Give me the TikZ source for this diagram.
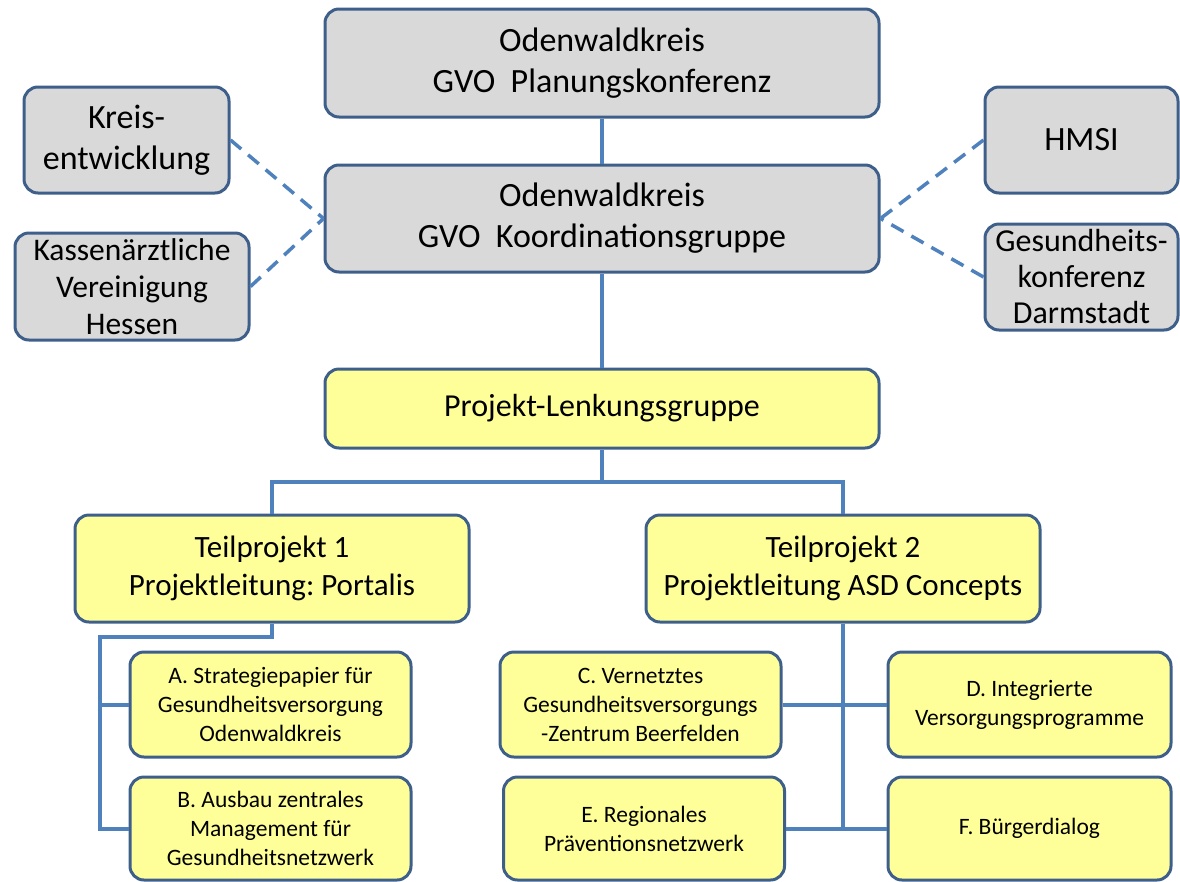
\documentclass[tikz,border=0pt]{standalone}
\usepackage{fontspec}
\setmainfont{Carlito}
\usetikzlibrary{positioning}
\definecolor{BoxBorder}{HTML}{3E5F8A}
\definecolor{LineBlue}{HTML}{4F81BD}
\definecolor{BoxGrey}{HTML}{D9D9D9}
\definecolor{BoxYellow}{HTML}{FFFF99}

\begin{document}
\frenchspacing
\begin{tikzpicture}[
    x=1pt, y=-1pt,
    box/.style={draw=BoxBorder, line width=3pt, rounded corners=14pt,
        align=center, inner sep=0pt, text=black},
    greybox/.style={box, fill=BoxGrey, font=\fontsize{34}{41}\selectfont},
    yellowbox/.style={box, fill=BoxYellow, font=\fontsize{32}{38}\selectfont},
    smallbox/.style={box, fill=BoxYellow, font=\fontsize{23.5}{29}\selectfont,
        minimum width=281pt, minimum height=105pt},
    link/.style={draw=LineBlue, line width=4pt},
    dashlink/.style={draw=LineBlue, line width=3.5pt, dashed, dash pattern=on 14pt off 9pt},
]
\useasboundingbox (0,0) rectangle (1180,881);

% Steuerungsebene
\node[greybox, minimum width=554pt, minimum height=108pt] (plan) at (602,63)
    {Odenwaldkreis\\GVO~~Planungskonferenz};
\node[greybox, minimum width=554pt, minimum height=107pt] (koord) at (602,218.5)
    {Odenwaldkreis\\GVO~~Koordinationsgruppe};

% Partner links und rechts
\node[greybox, minimum width=205pt, minimum height=106pt] (kreis) at (126.5,140)
    {Kreis-\\entwicklung};
\node[greybox, minimum width=234pt, minimum height=107pt,
      font=\fontsize{31.5}{37}\selectfont] (kv) at (132,286.5)
    {Kassenärztliche\\Vereinigung\\Hessen};
\node[greybox, minimum width=193pt, minimum height=106pt] (hmsi) at (1081.5,140)
    {HMSI};
\node[greybox, minimum width=193pt, minimum height=106pt,
      font=\fontsize{32}{36}\selectfont] (gk) at (1081.5,277)
    {Gesundheits-\\konferenz\\Darmstadt};

% Projektebene
\node[yellowbox, minimum width=554pt, minimum height=79pt] (lenk) at (602,408.5)
    {Projekt-Lenkungsgruppe};
\node[yellowbox, minimum width=394pt, minimum height=107pt,
      font=\fontsize{31}{38}\selectfont] (tp1) at (272,568.5)
    {Teilprojekt 1\\Projektleitung: Portalis};
\node[yellowbox, minimum width=394pt, minimum height=107pt,
      font=\fontsize{31}{38}\selectfont] (tp2) at (843,568.5)
    {Teilprojekt 2\\Projektleitung ASD Concepts};

% Arbeitspakete
\node[smallbox] (pa) at (270.5,704.5)
    {A. Strategiepapier für\\Gesundheitsversorgung\\Odenwaldkreis};
\node[smallbox, minimum height=103pt] (pb) at (270.5,828.5)
    {B. Ausbau zentrales\\Management für\\Gesundheitsnetzwerk};
\node[smallbox] (pc) at (640.5,704.5)
    {C. Vernetztes\\Gesundheitsversorgungs\\-Zentrum Beerfelden};
\node[smallbox, minimum width=283pt] (pd) at (1029.5,704.5)
    {D. Integrierte\\Versorgungsprogramme};
\node[smallbox, minimum height=103pt] (pe) at (644,828.5)
    {E. Regionales\\Präventionsnetzwerk};
\node[smallbox, minimum width=283pt, minimum height=103pt] (pf) at (1029.5,828.5)
    {F. Bürgerdialog};

% Verbindungen
\coordinate (jl) at (602,482);
\coordinate (j1) at (100,637);
\coordinate (j2) at (tp2.south |- pe.east);
\draw[link] (plan) -- (koord);
\draw[link] (koord) -- (lenk);
\draw[link] (lenk.south) -- (jl) -| (tp1.north);
\draw[link] (jl) -| (tp2.north);
\draw[link] (tp1.south) |- (j1) |- (pb.west);
\draw[link] (pa.west) -- (pa.west -| j1);
\draw[link] (tp2.south) -- (j2);
\draw[link] (pc.east) -- (pd.west);
\draw[link] (pe.east) -- (pf.west);

% gestrichelte Partnerlinien
\draw[dashlink] (kreis.east) -- (koord.west);
\draw[dashlink] (kv.east) -- (koord.west);
\draw[dashlink] (hmsi.west) -- (koord.east);
\draw[dashlink] (gk.west) -- (koord.east);

\end{tikzpicture}
\end{document}
